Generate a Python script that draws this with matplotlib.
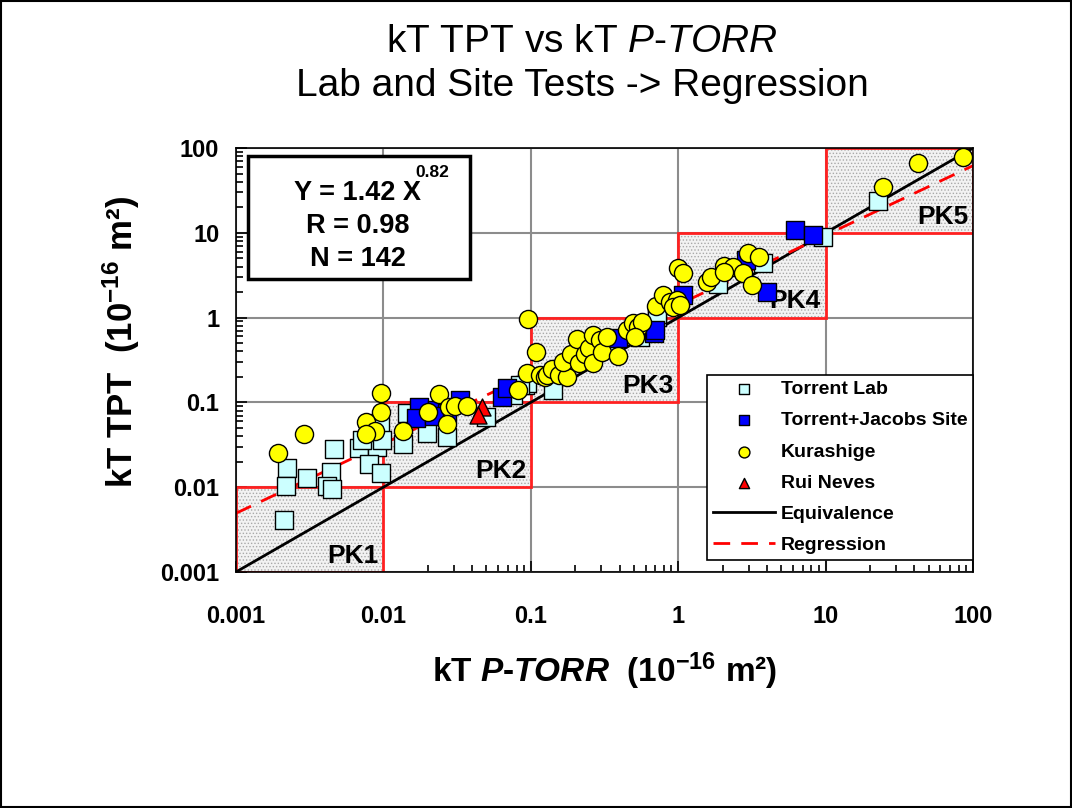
import matplotlib
matplotlib.use("Agg")
import matplotlib.pyplot as plt
import numpy as np
from matplotlib.patches import Rectangle
from matplotlib.ticker import LogLocator, FuncFormatter

plt.rcParams['font.family'] = ['Liberation Sans', 'DejaVu Sans']
plt.rcParams['mathtext.fontset'] = 'custom'
plt.rcParams['mathtext.rm'] = 'Liberation Sans:bold'
plt.rcParams['mathtext.it'] = 'Liberation Sans:italic'
plt.rcParams['mathtext.bf'] = 'Liberation Sans:bold'
plt.rcParams['mathtext.bfit'] = 'Liberation Sans:bold:italic'
plt.rcParams['hatch.linewidth'] = 0.6

# kT P-TORR (x) vs kT TPT (y), 1e-16 m2
lab_x = [0.00222, 0.0022, 0.00212, 0.00304, 0.00462, 0.00442, 0.00414, 0.00448,
         0.00683, 0.00906, 0.00798, 0.00963, 0.0095, 0.0098, 0.00716, 0.0145,
         0.0136, 0.0198, 0.027, 0.05, 0.0757, 0.0913, 0.094, 0.085, 0.142,
         0.372, 0.55, 0.718, 0.72, 1.86, 3.76, 9.6, 22.6]
lab_y = [0.0168, 0.0103, 0.0041, 0.0128, 0.0282, 0.0151, 0.0103, 0.0095,
         0.0289, 0.0296, 0.0187, 0.0147, 0.0575, 0.036, 0.036, 0.075,
         0.0323, 0.0436, 0.039, 0.067, 0.123, 0.162, 0.17, 0.16, 0.14,
         0.44, 0.59, 1.02, 1.1, 2.5, 4.4, 8.9, 23.7]

site_x = [0.0174, 0.0166, 0.023, 0.027, 0.033, 0.022, 0.064, 0.069,
          0.39, 0.68, 1.07, 0.70, 6.2, 8.2, 4.0, 2.9]
site_y = [0.089, 0.066, 0.081, 0.075, 0.107, 0.07, 0.115, 0.148,
          0.57, 0.66, 1.86, 0.71, 10.8, 9.4, 2.0, 4.8]

kura_x = [0.00193, 0.00289, 0.0096, 0.0096, 0.0076, 0.0088, 0.0076, 0.0136, 0.0200,
          0.0238, 0.0279, 0.027, 0.0305, 0.0369,
          0.082, 0.094, 0.115, 0.125, 0.096, 0.108,
          0.129, 0.139, 0.155, 0.176, 0.165, 0.187, 0.205, 0.212, 0.233, 0.25,
          0.264, 0.264, 0.295, 0.305, 0.33, 0.39, 0.45, 0.49, 0.53, 0.57, 0.51,
          0.71, 0.79, 0.88, 0.98, 0.92, 1.03, 1.0, 1.07,
          1.56, 1.66, 2.04, 2.35, 2.04, 2.75, 3.16, 2.97, 3.52,
          24.5, 42.5, 85.0]
kura_y = [0.025, 0.042, 0.129, 0.077, 0.059, 0.046, 0.042, 0.046, 0.077,
          0.126, 0.089, 0.056, 0.09, 0.091,
          0.141, 0.22, 0.21, 0.20, 0.96, 0.39,
          0.21, 0.25, 0.21, 0.20, 0.30, 0.37, 0.56, 0.29, 0.37, 0.44,
          0.29, 0.62, 0.55, 0.39, 0.59, 0.35, 0.71, 0.87, 0.77, 0.89, 0.59,
          1.38, 1.86, 1.52, 1.61, 1.33, 1.41, 3.85, 3.37,
          2.63, 3.0, 4.07, 4.0, 3.45, 3.36, 2.4, 5.8, 5.2,
          34.7, 66.5, 78.0]

rui_x = [0.047, 0.044]
rui_y = [0.089, 0.071]

pk_labels = ['PK1', 'PK2', 'PK3', 'PK4', 'PK5']
pk_lo = [0.001, 0.01, 0.1, 1, 10]

# regression Y = a X^b
reg_a = 1.42
reg_b = 0.82

fig = plt.figure(figsize=(10.72, 8.08), dpi=100)
ax = fig.add_axes([0.2201, 0.2921, 0.6876, 0.5247])
ax.set_xscale('log')
ax.set_yscale('log')
ax.set_xlim(0.001, 100)
ax.set_ylim(0.001, 100)

ax.grid(True, which='major', color='#8c8c8c', lw=1.5, zorder=0)
ax.set_axisbelow(True)

# PK classes boxes
for lab, lo in zip(pk_labels, pk_lo):
    ax.add_patch(Rectangle((lo, lo), lo * 9, lo * 9, facecolor='#f2f2f2',
                           edgecolor='#a8a8a8', hatch='.....', lw=0, zorder=1))
    ax.add_patch(Rectangle((lo, lo), lo * 9, lo * 9, facecolor='none',
                           edgecolor='#ff2020', lw=2, zorder=1.5))
    ax.text(lo * 9.3, lo * 1.12, lab, ha='right', va='bottom', fontsize=19,
            fontweight='bold', zorder=2)

xx = np.logspace(-3, 2, 50)
ax.plot(xx, xx, color='black', lw=2, zorder=2, label='Equivalence')
ax.plot(xx, reg_a * xx ** reg_b, color='red', lw=2, ls=(0, (6, 4)), zorder=2,
        label='Regression')

ax.scatter(lab_x, lab_y, s=150, marker='s', c='#ccffff', edgecolors='black',
           linewidths=1, zorder=3, label='Torrent Lab')
ax.scatter(site_x, site_y, s=150, marker='s', c='#0000ff', edgecolors='black',
           linewidths=1, zorder=4, label='Torrent+Jacobs Site')
ax.scatter(kura_x, kura_y, s=170, marker='o', c='#ffff00', edgecolors='black',
           linewidths=1, zorder=5, label='Kurashige')
ax.scatter(rui_x, rui_y, s=150, marker='^', c='#ff0000', edgecolors='black',
           linewidths=1, zorder=6, label='Rui Neves')

# ticks
for axis in [ax.xaxis, ax.yaxis]:
    axis.set_major_locator(LogLocator(base=10, numticks=10))
    axis.set_minor_locator(LogLocator(base=10, subs=np.arange(2, 10), numticks=10))
    axis.set_major_formatter(FuncFormatter(lambda v, p: f"{v:g}"))
ax.tick_params(which='both', direction='in', labelsize=17, width=1.2)
ax.tick_params(which='major', length=8, pad=12)
ax.tick_params(axis='x', which='major', pad=24)
ax.tick_params(which='minor', length=5)
for t in ax.get_xticklabels() + ax.get_yticklabels():
    t.set_fontweight('bold')
for s in ax.spines.values():
    s.set_linewidth(1.2)

ax.set_xlabel(r"kT $\mathbfit{P}$-$\mathbfit{TORR}$  (10$^{-16}$ m²)",
              fontsize=24, fontweight='bold', labelpad=16)
ax.set_ylabel(r"kT TPT  (10$^{-16}$ m²)", fontsize=25, fontweight='bold')
ax.yaxis.set_label_coords(-0.127, 0.542)

fig.text(0.543, 0.948, r"kT TPT vs kT $\mathit{P}$-$\mathit{TORR}$", ha='center',
         va='center', fontsize=28)
fig.text(0.543, 0.894, "Lab and Site Tests -> Regression", ha='center',
         va='center', fontsize=28)

# equation box
ax.add_patch(Rectangle((0.0163, 0.691), 0.301, 0.290, transform=ax.transAxes,
                       facecolor='white', edgecolor='black', lw=2.5, zorder=7))
ax.text(0.1655, 0.894, "Y = 1.42 X", transform=ax.transAxes, ha='center',
        va='center', fontsize=19.5, fontweight='bold', zorder=8)
ax.text(0.266, 0.943, "0.82", transform=ax.transAxes, ha='center',
        va='center', fontsize=12.5, fontweight='bold', zorder=8)
ax.text(0.1655, 0.816, "R = 0.98", transform=ax.transAxes, ha='center',
        va='center', fontsize=19.5, fontweight='bold', zorder=8)
ax.text(0.1655, 0.738, "N = 142", transform=ax.transAxes, ha='center',
        va='center', fontsize=19.5, fontweight='bold', zorder=8)

handles, labels = ax.get_legend_handles_labels()
order = [2, 3, 4, 5, 0, 1]
leg = ax.legend([handles[i] for i in order], [labels[i] for i in order],
                loc='lower right', bbox_to_anchor=(1.0, 0.028), borderaxespad=0,
                fancybox=False, edgecolor='black', framealpha=1,
                prop={'weight': 'bold', 'size': 14}, handlelength=3.2,
                labelspacing=0.7, scatterpoints=1, markerscale=0.6,
                handletextpad=0.3, borderpad=0.3)
leg.get_frame().set_linewidth(1.2)
leg.set_zorder(9)

fig.add_artist(Rectangle((0.001, 0.001), 0.998, 0.998, transform=fig.transFigure,
                         facecolor='none', edgecolor='black', lw=1.5))

fig.savefig('out.png', dpi=100)
